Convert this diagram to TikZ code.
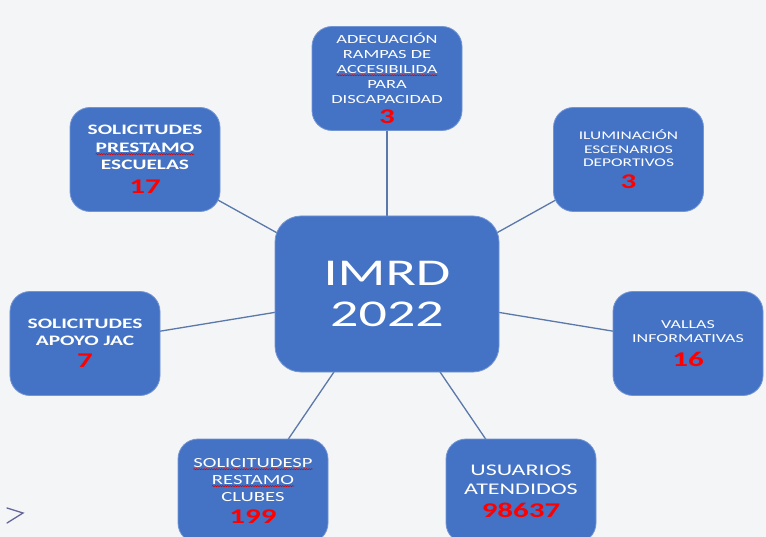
\documentclass[tikz,border=0pt]{standalone}
\usepackage{fontspec}
\setmainfont{Carlito}[FakeStretch=1.48]
\usetikzlibrary{decorations.pathmorphing}
\tikzset{
  wavetext/.style={inner sep=0pt, outer sep=0pt, minimum width=0pt, minimum height=0pt,
    draw=none, fill=none, text=white, rounded corners=0pt},
  waveline/.style={draw=red!85!black, fill=none, line width=0.5bp, rounded corners=0pt, decorate,
    decoration={snake, amplitude=0.6bp, segment length=2.5bp}}}
\newcommand\redwave[1]{\tikz[baseline=(w.base)]{\node[wavetext] (w) {#1};
  \path[waveline] ([yshift=-1.8bp]w.base west) -- ([yshift=-1.8bp]w.base east);}}
\newcommand\bignum[1]{{\fontsize{21}{21}\selectfont\bfseries\color{red}#1}}
\definecolor{boxblue}{HTML}{4472C4}
\definecolor{linecol}{HTML}{5A78AA}
\definecolor{bgcol}{HTML}{F4F5F7}
\pgfdeclarelayer{bglayer}
\pgfdeclarelayer{linelayer}
\pgfsetlayers{bglayer,linelayer,main}
\begin{document}
\begin{tikzpicture}[x=1bp,y=-1bp,
  box/.style={draw=boxblue!75!white, line width=0.8bp, fill=boxblue, rounded corners=20bp,
    minimum width=150bp, minimum height=104bp, text=white, align=center, inner sep=0pt},
  hub/.style={box, minimum width=224bp, minimum height=156bp, rounded corners=26bp},
  conn/.style={draw=linecol, line width=1.3bp}]
\useasboundingbox (0,0) rectangle (766,537);
\begin{pgfonlayer}{bglayer}
\fill[bgcol] (0,0) rectangle (766,537);
\end{pgfonlayer}

\node[hub, font=\fontsize{38}{41}\selectfont] (c) at (387,294) {IMRD\\2022};

\node[box, font=\fontsize{12.5}{15}\selectfont] (top) at (387,78.5)
  {ADECUACIÓN\\RAMPAS DE\\\redwave{ACCESIBILIDA}\\PARA\\DISCAPACIDAD\\[5.5bp]\bignum{3}};
\node[box, font=\fontsize{14.5}{17.5}\selectfont\bfseries] (tl) at (145,159.5)
  {SOLICITUDES\\\redwave{PRESTAMO}\\ESCUELAS\\[6.5bp]\bignum{17}};
\node[box, font=\fontsize{11.8}{13.5}\selectfont] (tr) at (628.5,159.5)
  {ILUMINACIÓN\\ESCENARIOS\\DEPORTIVOS\\[7bp]\bignum{3}};
\node[box, font=\fontsize{14.5}{17}\selectfont\bfseries] (lf) at (85,343.5)
  {SOLICITUDES\\APOYO JAC\\[5.4bp]\bignum{7}};
\node[box, font=\fontsize{12.2}{14}\selectfont] (rt) at (688,343.5)
  {VALLAS\\INFORMATIVAS\\[8bp]\bignum{16}};
\node[box, font=\fontsize{14}{17}\selectfont] (bl) at (253,491)
  {\redwave{SOLICITUDESP}\\\redwave{RESTAMO}\\CLUBES\\[5.5bp]\bignum{199}};
\node[box, font=\fontsize{16.3}{20}\selectfont] (br) at (521,491)
  {USUARIOS\\ATENDIDOS\\[2.5bp]\bignum{98637}};

\begin{pgfonlayer}{linelayer}
\foreach \n in {top,tl,tr,lf,rt,bl,br} \draw[conn] (c.center) -- (\n.center);
\end{pgfonlayer}

\coordinate (a1) at (7,508);
\coordinate (a2) at (23,513);
\coordinate (a3) at (7,523);
\draw[gray!80!blue, line width=1.3bp, line cap=round] (a1) -- (a2) -- (a3);
\end{tikzpicture}
\end{document}
